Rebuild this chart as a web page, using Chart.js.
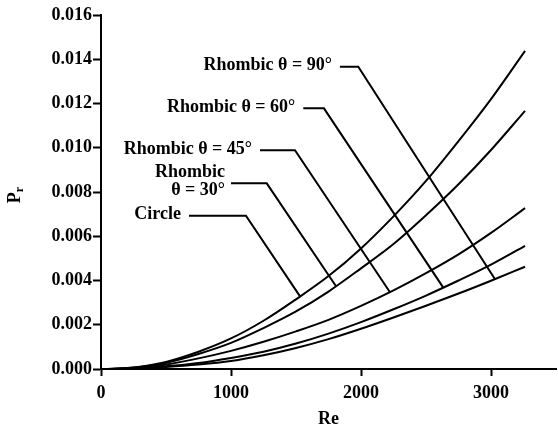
<!DOCTYPE html>
<html>
<head>
<meta charset="utf-8">
<script src="https://cdn.jsdelivr.net/npm/chart.js@4.4.1/dist/chart.umd.min.js"></script>
<style>
  html, body { margin: 0; padding: 0; background: #fff; }
  #c { display: block; }
</style>
</head>
<body>
<canvas id="c" width="558" height="431"></canvas>
<script>
// Reynolds numbers sampled along each curve
const reValues = [0, 150, 300, 500, 750, 1000, 1250, 1500, 1750, 2000, 2250, 2500, 2750, 3000, 3262];

// Pr for each cross-section
const circle    = [0, 0.00002, 0.0001, 0.00032, 0.00078, 0.00138, 0.00218, 0.00315, 0.0042, 0.00545, 0.0069, 0.0085, 0.0103, 0.0122, 0.01438];
const rhombic30 = [0, 0.00002, 0.00009, 0.00028, 0.00068, 0.00118, 0.00185, 0.0026, 0.0035, 0.00455, 0.00565, 0.00695, 0.00835, 0.0099, 0.01167];
const rhombic45 = [0, 0.00001, 0.00007, 0.0002, 0.00048, 0.00082, 0.00123, 0.0017, 0.00222, 0.00285, 0.00355, 0.00433, 0.00518, 0.00615, 0.00727];
const rhombic60 = [0, 0.00001, 0.00004, 0.00012, 0.00027, 0.0005, 0.00078, 0.00115, 0.0016, 0.00212, 0.0027, 0.00332, 0.004, 0.00472, 0.00557];
const rhombic90 = [0, 0.00001, 0.00003, 0.00009, 0.0002, 0.00036, 0.00062, 0.00095, 0.00135, 0.00182, 0.00233, 0.00286, 0.00341, 0.00399, 0.00462];

// Axis ticks
const xTicks = [0, 1000, 2000, 3000];
const yTicks = [0, 0.002, 0.004, 0.006, 0.008, 0.010, 0.012, 0.014, 0.016];

// Callout leader paths (label end -> elbow -> curve), in Re / Pr units
const circleLeaderRe = [677, 1115, 1531];
const circleLeaderPr = [0.00693, 0.00693, 0.00328];
const r30LeaderRe = [1000, 1275, 1808];
const r30LeaderPr = [0.00839, 0.00839, 0.00374];
const r45LeaderRe = [1223, 1492, 2223];
const r45LeaderPr = [0.00989, 0.00989, 0.00347];
const r60LeaderRe = [1556, 1715, 2633];
const r60LeaderPr = [0.01178, 0.01178, 0.00368];
const r90LeaderRe = [1838, 1979, 3031];
const r90LeaderPr = [0.01366, 0.01366, 0.00406];

// Callout texts (one entry per line)
const circleText = ['Circle'];
const r30Text = ['Rhombic', 'θ = 30°'];
const r45Text = ['Rhombic θ = 45°'];
const r60Text = ['Rhombic θ = 60°'];
const r90Text = ['Rhombic θ = 90°'];

const FONT_FAMILY = '"Liberation Serif", "Times New Roman", Times, serif';

const toPoints = (xs, ys) => xs.map((x, i) => ({ x: x, y: ys[i] }));

const curveStyle = {
  borderColor: '#000',
  borderWidth: 2,
  pointRadius: 0,
  fill: false,
  cubicInterpolationMode: 'monotone'
};
const leaderStyle = {
  borderColor: '#000',
  borderWidth: 2,
  pointRadius: 0,
  fill: false,
  tension: 0,
  borderJoinStyle: 'miter',
  borderCapStyle: 'butt'
};

const callouts = [
  { re: circleLeaderRe, pr: circleLeaderPr, text: circleText },
  { re: r30LeaderRe, pr: r30LeaderPr, text: r30Text },
  { re: r45LeaderRe, pr: r45LeaderPr, text: r45Text },
  { re: r60LeaderRe, pr: r60LeaderPr, text: r60Text },
  { re: r90LeaderRe, pr: r90LeaderPr, text: r90Text }
];

// Draws callout labels and axis titles (with the subscript in Pr)
const textPlugin = {
  id: 'calloutText',
  afterDraw(chart) {
    const ctx = chart.ctx;
    const xs = chart.scales.x, ys = chart.scales.y;
    ctx.save();
    ctx.fillStyle = '#000';
    ctx.font = 'bold 18px ' + FONT_FAMILY;
    ctx.textAlign = 'right';
    ctx.textBaseline = 'middle';
    callouts.forEach(c => {
      const px = xs.getPixelForValue(c.re[0]);
      const py = ys.getPixelForValue(c.pr[0]);
      if (c.text.length === 1) {
        ctx.fillText(c.text[0], px - 8, py - 1);
      } else {
        ctx.fillText(c.text[0], px - 6, py - 11);
        ctx.fillText(c.text[1], px - 6, py + 7);
      }
    });

    // x-axis title
    ctx.textAlign = 'center';
    ctx.fillText('Re', (chart.chartArea.left + chart.chartArea.right) / 2, 419);

    // y-axis title: P with subscript r, rotated
    ctx.translate(15, 195);
    ctx.rotate(-Math.PI / 2);
    ctx.font = 'bold 18px ' + FONT_FAMILY;
    const wP = ctx.measureText('P').width;
    ctx.font = 'bold 12px ' + FONT_FAMILY;
    const wr = ctx.measureText('r').width;
    const start = -(wP + wr) / 2;
    ctx.textAlign = 'left';
    ctx.font = 'bold 18px ' + FONT_FAMILY;
    ctx.fillText('P', start, 0);
    ctx.font = 'bold 12px ' + FONT_FAMILY;
    ctx.fillText('r', start + wP, 5);
    ctx.restore();
  }
};

new Chart(document.getElementById('c'), {
  type: 'line',
  data: {
    datasets: [
      Object.assign({ label: 'Circle', data: toPoints(reValues, circle) }, curveStyle),
      Object.assign({ label: 'Rhombic θ = 30°', data: toPoints(reValues, rhombic30) }, curveStyle),
      Object.assign({ label: 'Rhombic θ = 45°', data: toPoints(reValues, rhombic45) }, curveStyle),
      Object.assign({ label: 'Rhombic θ = 60°', data: toPoints(reValues, rhombic60) }, curveStyle),
      Object.assign({ label: 'Rhombic θ = 90°', data: toPoints(reValues, rhombic90) }, curveStyle),
      ...callouts.map(c => Object.assign({ label: c.text.join(' '), data: toPoints(c.re, c.pr) }, leaderStyle))
    ]
  },
  options: {
    responsive: false,
    animation: false,
    devicePixelRatio: 1,
    layout: { padding: { top: 15, right: 2, left: 0, bottom: 0 } },
    plugins: { legend: { display: false }, tooltip: { enabled: false } },
    scales: {
      x: {
        type: 'linear',
        min: 0,
        max: 3500,
        afterBuildTicks: s => { s.ticks = xTicks.map(v => ({ value: v })); },
        afterFit: s => { s.height = 62; },
        grid: { display: true, drawOnChartArea: false, drawTicks: true, tickLength: 7, tickWidth: 2, tickColor: '#000' },
        border: { display: true, color: '#000', width: 2 },
        ticks: {
          color: '#000',
          font: { family: FONT_FAMILY, size: 18, weight: 'bold' },
          padding: 7,
          maxRotation: 0,
          autoSkip: false,
          callback: v => String(v)
        },
        title: { display: false }
      },
      y: {
        type: 'linear',
        min: 0,
        max: 0.016,
        afterBuildTicks: s => { s.ticks = yTicks.map(v => ({ value: v })); },
        afterFit: s => { s.width = 101; },
        grid: { display: true, drawOnChartArea: false, drawTicks: true, tickLength: 8, tickWidth: 2, tickColor: '#000' },
        border: { display: true, color: '#000', width: 2 },
        ticks: {
          color: '#000',
          font: { family: FONT_FAMILY, size: 18, weight: 'bold' },
          padding: 1,
          autoSkip: false,
          callback: v => Number(v).toFixed(3)
        },
        title: { display: false }
      }
    }
  },
  plugins: [textPlugin]
});
</script>
</body>
</html>
